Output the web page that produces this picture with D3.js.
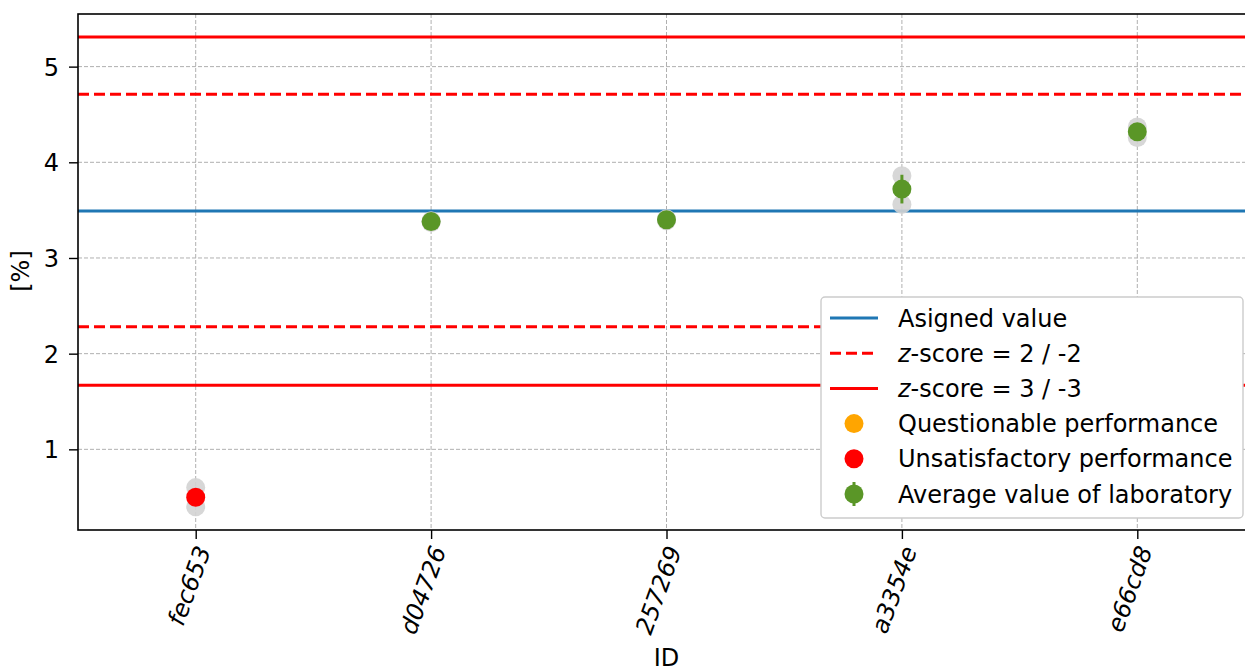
<!DOCTYPE html>
<html>
<head>
<meta charset="utf-8">
<script src="https://cdn.jsdelivr.net/npm/d3@7"></script>
<style>
  body { margin: 0; background: #fff; }
  svg { font-family: "DejaVu Sans", sans-serif; }
</style>
</head>
<body>
<svg id="chart" width="1245" height="672"></svg>
<script>
// laboratory IDs and results
const labIds = ["fec653", "d04726", "257269", "a3354e", "e66cd8"];
const replicateA = [0.60, 3.37, 3.39, 3.86, 4.37];
const replicateB = [0.40, 3.39, 3.41, 3.56, 4.26];
const labMeans = [0.50, 3.38, 3.40, 3.72, 4.32];
const labErrors = [0.02, 0.01, 0.01, 0.15, 0.04];
const labStatus = ["unsatisfactory", "ok", "ok", "ok", "ok"];

// reference lines
const assignedValue = 3.49;
const zLimits2 = [4.71, 2.28];
const zLimits3 = [5.31, 1.67];
const yTicks = [1, 2, 3, 4, 5];

const statusColor = { ok: "#5a9627", questionable: "orange", unsatisfactory: "red" };
const FS = 24;

const svg = d3.select("#chart");
const margin = { left: 78, top: 14, right: 1255, bottom: 530 };

const x = d3.scaleLinear().domain([-0.5, labIds.length - 0.5]).range([margin.left, margin.right]);
const y = d3.scaleLinear().domain([0.157, 5.55]).range([margin.bottom, margin.top]);

// grid
const grid = svg.append("g");
grid.selectAll("line.gx").data(labIds).enter().append("line")
  .attr("x1", (d, i) => x(i)).attr("x2", (d, i) => x(i))
  .attr("y1", margin.top).attr("y2", margin.bottom)
  .attr("stroke", "#b0b0b0").attr("stroke-width", 1).attr("stroke-dasharray", "4,2");
grid.selectAll("line.gy").data(yTicks).enter().append("line")
  .attr("x1", margin.left).attr("x2", margin.right)
  .attr("y1", d => y(d)).attr("y2", d => y(d))
  .attr("stroke", "#b0b0b0").attr("stroke-width", 1).attr("stroke-dasharray", "4,2");

// horizontal reference lines
const hLine = (v, color, dash) => svg.append("line")
  .attr("x1", margin.left).attr("x2", margin.right)
  .attr("y1", y(v)).attr("y2", y(v))
  .attr("stroke", color).attr("stroke-width", 3)
  .attr("stroke-dasharray", dash);
hLine(assignedValue, "#1f77b4", null);
zLimits2.forEach(v => hLine(v, "red", "11,5"));
zLimits3.forEach(v => hLine(v, "red", null));

// replicates (grey)
const pts = svg.append("g");
labIds.forEach((id, i) => {
  [replicateA[i], replicateB[i]].forEach(v => {
    pts.append("circle").attr("cx", x(i)).attr("cy", y(v)).attr("r", 9.5)
      .attr("fill", "#d3d3d3").attr("fill-opacity", 0.9);
  });
});

// error bars and means
labIds.forEach((id, i) => {
  const c = statusColor[labStatus[i]];
  if (labStatus[i] === "ok") {
    pts.append("line").attr("x1", x(i)).attr("x2", x(i))
      .attr("y1", y(labMeans[i] - labErrors[i])).attr("y2", y(labMeans[i] + labErrors[i]))
      .attr("stroke", c).attr("stroke-width", 3);
  }
  pts.append("circle").attr("cx", x(i)).attr("cy", y(labMeans[i])).attr("r", 9.5).attr("fill", c);
});

// axes
const yAxis = svg.append("g").attr("transform", `translate(${margin.left},0)`)
  .call(d3.axisLeft(y).tickValues(yTicks).tickSize(9).tickPadding(10).tickFormat(d3.format("d")));
yAxis.select(".domain").remove();
yAxis.attr("font-family", null).attr("font-size", null);
yAxis.selectAll("text").attr("font-size", FS).attr("fill", "#000").attr("dy", "0.36em");
yAxis.selectAll("line").attr("stroke-width", 1.4);

const xAxis = svg.append("g").attr("transform", `translate(0,${margin.bottom})`)
  .call(d3.axisBottom(x).tickValues(d3.range(labIds.length)).tickSize(9).tickFormat(i => labIds[i]));
xAxis.select(".domain").remove();
xAxis.attr("font-family", null).attr("font-size", null);
xAxis.selectAll("line").attr("stroke-width", 1.4);
xAxis.selectAll("text")
  .attr("font-size", FS).attr("font-style", "italic").attr("fill", "#000")
  .attr("text-anchor", "end").attr("dy", null).attr("y", 0)
  .attr("transform", "translate(15,20) rotate(-70)");

// frame
svg.append("rect").attr("x", margin.left).attr("y", margin.top)
  .attr("width", margin.right - margin.left).attr("height", margin.bottom - margin.top)
  .attr("fill", "none").attr("stroke", "#000").attr("stroke-width", 1.6);

// axis labels
svg.append("text").attr("transform", "translate(29,271) rotate(-90)")
  .attr("text-anchor", "middle").attr("font-size", FS).text("[%]");
svg.append("text").attr("x", x(2)).attr("y", 666)
  .attr("text-anchor", "middle").attr("font-size", FS).text("ID");

// legend
const lg = svg.append("g").attr("transform", "translate(821,297)");
lg.append("rect").attr("width", 422).attr("height", 221).attr("rx", 4)
  .attr("fill", "#fff").attr("stroke", "#cccccc").attr("stroke-width", 1.4);
const legendItems = [
  { label: "Asigned value", type: "line", color: "#1f77b4" },
  { label: "z-score = 2 / -2", type: "dash", color: "red" },
  { label: "z-score = 3 / -3", type: "line", color: "red" },
  { label: "Questionable performance", type: "dot", color: "orange" },
  { label: "Unsatisfactory performance", type: "dot", color: "red" },
  { label: "Average value of laboratory", type: "err", color: "#5a9627" }
];
legendItems.forEach((d, i) => {
  const cy = 21 + i * 35.2;
  if (d.type === "line" || d.type === "dash") {
    lg.append("line").attr("x1", 9).attr("x2", 57).attr("y1", cy).attr("y2", cy)
      .attr("stroke", d.color).attr("stroke-width", 3)
      .attr("stroke-dasharray", d.type === "dash" ? "11,5" : null);
  } else {
    if (d.type === "err") {
      lg.append("line").attr("x1", 33).attr("x2", 33).attr("y1", cy - 12).attr("y2", cy + 12)
        .attr("stroke", d.color).attr("stroke-width", 3);
    }
    lg.append("circle").attr("cx", 33).attr("cy", cy).attr("r", 9.5).attr("fill", d.color);
  }
  const t = lg.append("text").attr("x", 77).attr("y", cy + 8.5).attr("font-size", FS);
  if (d.label.startsWith("z-score")) {
    t.append("tspan").attr("font-style", "italic").text("z");
    t.append("tspan").text(d.label.slice(1));
  } else {
    t.text(d.label);
  }
});
</script>
</body>
</html>
